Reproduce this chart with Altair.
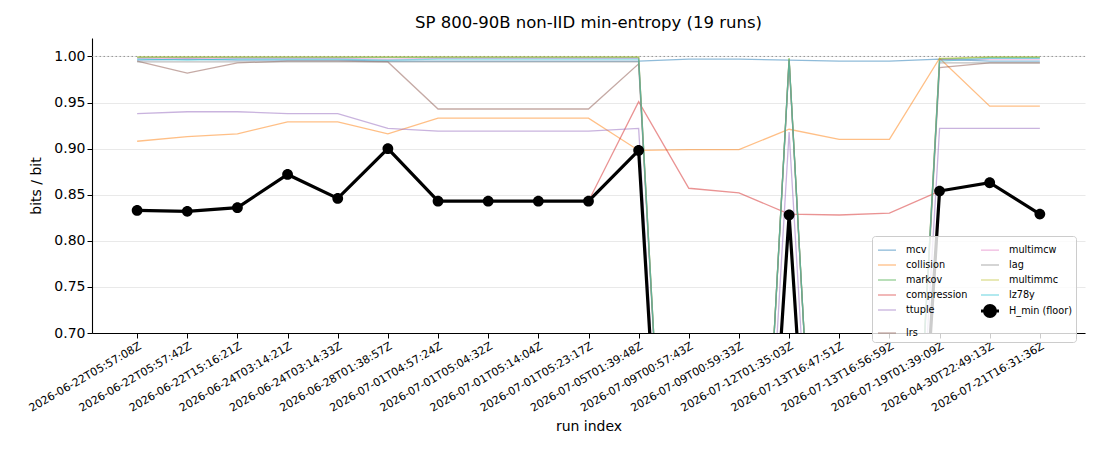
import altair as alt
import pandas as pd

runs = [
    "2026-06-22T05:57:08Z", "2026-06-22T05:57:42Z", "2026-06-22T15:16:21Z",
    "2026-06-24T03:14:21Z", "2026-06-24T03:14:33Z", "2026-06-28T01:38:57Z",
    "2026-07-01T04:57:24Z", "2026-07-01T05:04:32Z", "2026-07-01T05:14:04Z",
    "2026-07-01T05:23:17Z", "2026-07-05T01:39:48Z", "2026-07-09T00:57:43Z",
    "2026-07-09T00:59:33Z", "2026-07-12T01:35:03Z", "2026-07-13T16:47:51Z",
    "2026-07-13T16:56:59Z", "2026-07-19T01:39:09Z", "2026-04-30T22:49:13Z",
    "2026-07-21T16:31:36Z",
]

mcv = [0.996, 0.997, 0.996, 0.996, 0.996, 0.995, 0.995, 0.995, 0.995, 0.995,
       0.995, 0.997, 0.997, 0.996, 0.995, 0.995, 0.997, 0.995, 0.995]
collision = [0.908, 0.913, 0.916, 0.929, 0.929, 0.916, 0.933, 0.933, 0.933, 0.933,
             0.898, 0.899, 0.899, 0.921, 0.910, 0.910, 0.998, 0.946, 0.946]
markov = [0.999, 0.999, 0.999, 0.999, 0.999, 0.999, 0.999, 0.999, 0.999, 0.999,
          0.999, 0.0, 0.0, 0.998, 0.0, 0.0, 0.997, 0.999, 0.999]
compression = [0.833, 0.832, 0.836, 0.872, 0.846, 0.900, 0.843, 0.843, 0.843, 0.843,
               0.951, 0.857, 0.852, 0.829, 0.828, 0.830, 0.854, 0.863, 0.829]
ttuple = [0.938, 0.940, 0.940, 0.938, 0.938, 0.922, 0.919, 0.919, 0.919, 0.919,
          0.922, 0.0, 0.0, 0.918, 0.0, 0.0, 0.922, 0.922, 0.922]
lrs = [0.995, 0.982, 0.993, 0.995, 0.995, 0.994, 0.943, 0.943, 0.943, 0.943,
       0.992, 0.0, 0.0, 0.996, 0.0, 0.0, 0.988, 0.993, 0.993]
multimcw = [0.998, 0.998, 0.998, 0.998, 0.998, 0.997, 0.998, 0.998, 0.998, 0.998,
            0.998, 0.0, 0.0, 0.996, 0.0, 0.0, 0.996, 0.997, 0.997]
lag = [0.994, 0.994, 0.994, 0.994, 0.994, 0.994, 0.994, 0.994, 0.994, 0.994,
       0.994, 0.0, 0.0, 0.995, 0.0, 0.0, 0.993, 0.993, 0.993]
multimmc = [0.9995, 0.9995, 0.9995, 0.9995, 0.9995, 0.9995, 0.9995, 0.9995, 0.9995, 0.9995,
            0.9995, 0.0, 0.0, 0.998, 0.0, 0.0, 0.998, 0.9995, 0.9995]
lz78y = [0.997, 0.996, 0.997, 0.997, 0.997, 0.996, 0.997, 0.997, 0.997, 0.997,
         0.997, 0.0, 0.0, 0.997, 0.0, 0.0, 0.995, 0.998, 0.998]
h_min = [0.833, 0.832, 0.836, 0.872, 0.846, 0.900, 0.843, 0.843, 0.843, 0.843,
         0.898, 0.0, 0.0, 0.828, 0.0, 0.0, 0.854, 0.863, 0.829]

series_names = ["mcv", "collision", "markov", "compression", "ttuple", "lrs",
                "multimcw", "lag", "multimmc", "lz78y"]
series_values = [mcv, collision, markov, compression, ttuple, lrs,
                 multimcw, lag, multimmc, lz78y]
series_colors = ["#1f77b4", "#ff7f0e", "#2ca02c", "#d62728", "#9467bd", "#8c564b",
                 "#e377c2", "#7f7f7f", "#bcbd22", "#17becf"]
HMIN = "H_min (floor)"

rows = []
for name, vals in zip(series_names + [HMIN], series_values + [h_min]):
    for i, (r, v) in enumerate(zip(runs, vals)):
        rows.append({"run": r, "idx": i, "series": name, "value": v})
df = pd.DataFrame(rows)
dh = pd.DataFrame({"run": runs, "series": HMIN, "value": h_min})

legend_order = series_names + [HMIN]
legend_colors = series_colors + ["#000000"]
legend_widths = [1.3] * len(series_names) + [3.2]
legend_opac = [0.5] * len(series_names) + [1.0]
legend_shapes = ["stroke"] * len(series_names) + [
    "M-1,0L1,0M0.6,0A0.6,0.6,0,1,1,-0.6,0A0.6,0.6,0,1,1,0.6,0"]

FONT = "DejaVu Sans"

x_enc = alt.X("run:N", sort=runs,
              scale=alt.Scale(type="point", padding=0.9),
              axis=alt.Axis(title="run index", labelAngle=-30, labelAlign="right",
                            labelBaseline="top", labelFontSize=11, labelPadding=2,
                            titleFontSize=14, titlePadding=6))
y_enc = alt.Y("value:Q",
              scale=alt.Scale(domain=[0.70, 1.02], nice=False, zero=False),
              axis=alt.Axis(title="bits / bit", values=[0.70, 0.75, 0.80, 0.85, 0.90, 0.95, 1.00],
                            format=".2f", labelFontSize=14, titleFontSize=14,
                            titlePadding=10))

leg = alt.Legend(
    title=None, orient="none", legendX=780, legendY=198, columns=2, gridAlign="each",
    columnPadding=6, rowPadding=-5, symbolType="stroke", symbolSize=324,
    labelFontSize=9.7, labelFont=FONT, labelOffset=8, padding=4,
    fillColor="rgba(255,255,255,0.8)", strokeColor="#cccccc", cornerRadius=3,
)

color_scale = alt.Scale(domain=legend_order, range=legend_colors)

base_ref = alt.Chart(pd.DataFrame({"value": [1.0]})).mark_rule(
    color="#808080", strokeDash=[1.5, 2.5], strokeWidth=1, opacity=0.8
).encode(y=alt.Y("value:Q"))

lines = alt.Chart(df).mark_line(clip=True).encode(
    x=x_enc, y=y_enc,
    color=alt.Color("series:N", scale=color_scale, legend=leg),
    strokeWidth=alt.StrokeWidth("series:N",
                                scale=alt.Scale(type="ordinal", domain=legend_order,
                                                range=legend_widths),
                                legend=leg),
    opacity=alt.Opacity("series:N",
                        scale=alt.Scale(type="ordinal", domain=legend_order,
                                        range=legend_opac),
                        legend=leg),
    order=alt.Order("idx:Q"),
)

hpts = alt.Chart(dh).mark_point(filled=True, size=324, opacity=1, clip=True).encode(
    x=alt.X("run:N", sort=runs), y="value:Q",
    color=alt.Color("series:N", scale=color_scale, legend=leg),
    shape=alt.Shape("series:N",
                    scale=alt.Scale(domain=legend_order, range=legend_shapes),
                    legend=leg),
)

chart = alt.layer(base_ref, lines, hpts).properties(
    width=993, height=295,
    autosize=alt.AutoSizeParams(type="none"),
    padding={"left": 84, "top": 30, "right": 7, "bottom": 110},
    title=alt.TitleParams("SP 800-90B non-IID min-entropy (19 runs)",
                          fontSize=16.5, fontWeight="normal", font=FONT,
                          anchor="middle", offset=7, color="black"),
).configure_view(stroke=None).configure_axis(
    labelFont=FONT, titleFont=FONT, labelColor="black", titleColor="black",
    titleFontWeight="normal", domainColor="black", tickColor="black",
    tickSize=5, gridColor="#e6e6e6", gridWidth=0.9, domainWidth=1.1,
)

chart.save("out.html", embed_options={"renderer": "svg", "actions": False})
